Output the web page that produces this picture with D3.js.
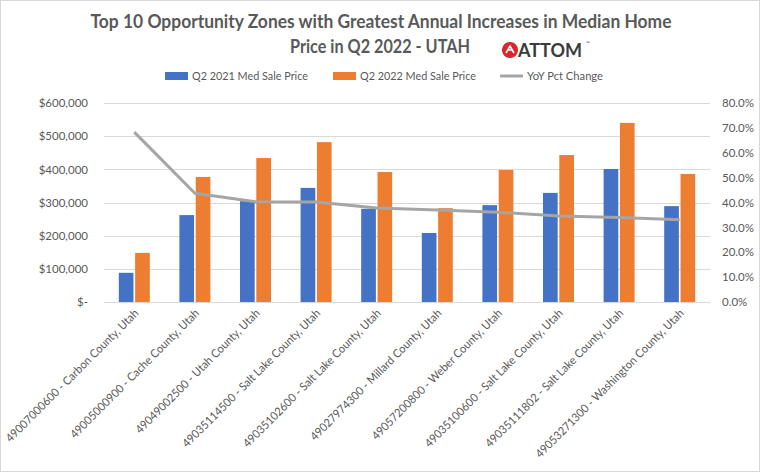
<!DOCTYPE html>
<html><head><meta charset="utf-8">
<script src="https://cdn.jsdelivr.net/npm/d3@7"></script>
<style>
html,body{margin:0;padding:0;background:#fff;}
svg{display:block;font-family:Lato,"Open Sans",sans-serif;}
</style></head>
<body>
<svg id="chart" width="760" height="472"></svg>
<script>
const categories = [
  "49007000600 - Carbon County, Utah",
  "49005000900 - Cache County, Utah",
  "49049002500 - Utah County, Utah",
  "49035114500 - Salt Lake County, Utah",
  "49035102600 - Salt Lake County, Utah",
  "49027974300 - Millard County, Utah",
  "49057200800 - Weber County, Utah",
  "49035100600 - Salt Lake County, Utah",
  "49035111802 - Salt Lake County, Utah",
  "49053271300 - Washington County, Utah"
];
const seriesNames = ["Q2 2021 Med Sale Price", "Q2 2022 Med Sale Price", "YoY Pct Change"];
const price2021 = [88000, 262000, 304000, 344000, 281000, 208000, 292000, 329000, 401000, 289000];
const price2022 = [148000, 377000, 434000, 482000, 392000, 283000, 398000, 443000, 540000, 386000];
const yoyPct = [0.683, 0.437, 0.403, 0.402, 0.378, 0.370, 0.361, 0.346, 0.340, 0.331];
const leftTicks = [0, 100000, 200000, 300000, 400000, 500000, 600000];
const rightTicks = [0, 0.1, 0.2, 0.3, 0.4, 0.5, 0.6, 0.7, 0.8];

const colors = {b:"#4472c4", o:"#ed7d31", g:"#a5a5a5", text:"#595959", grid:"#d9d9d9"};
const FONT = "Lato,'Open Sans',sans-serif";
const svg = d3.select("#chart");

// border
svg.append("rect").attr("x",0.5).attr("y",0.5).attr("width",759).attr("height",471)
  .attr("fill","#fff").attr("stroke","#d9d9d9");

const L = 104, R = 710, T = 103, B = 302;
const x0 = d3.scaleBand().domain(categories).range([L, R]).padding(0);
const bw = x0.bandwidth();
const x1 = d3.scaleBand().domain([0,1]).range([bw/2 - 15.5, bw/2 + 15.5]).paddingInner(0.1).paddingOuter(0);
const yL = d3.scaleLinear().domain([0, 600000]).range([B, T]);
const yR = d3.scaleLinear().domain([0, 0.8]).range([B, T]);

// gridlines
svg.append("g").selectAll("line").data(leftTicks).join("line")
  .attr("x1", L).attr("x2", R)
  .attr("y1", d => Math.round(yL(d)) + 0.5).attr("y2", d => Math.round(yL(d)) + 0.5)
  .attr("stroke", colors.grid).attr("stroke-width", 1);

// left axis
const fmtL = d => d === 0 ? "$-" : "$" + d3.format(",")(d);
const gl = svg.append("g").attr("transform", `translate(${L - 16},0)`)
  .call(d3.axisLeft(yL).tickValues(leftTicks).tickFormat(fmtL).tickSize(0).tickPadding(0));
gl.select(".domain").remove();
gl.selectAll("text").attr("fill", colors.text).style("font-size","11.5px").style("font-family",FONT);

// right axis
const gr = svg.append("g").attr("transform", `translate(${R + 12},0)`)
  .call(d3.axisRight(yR).tickValues(rightTicks).tickFormat(d3.format(".1%")).tickSize(0).tickPadding(0));
gr.select(".domain").remove();
gr.selectAll("text").attr("fill", colors.text).style("font-size","11.5px").style("font-family",FONT);

// bars
const bars = svg.append("g");
[price2021, price2022].forEach((arr, si) => {
  bars.append("g").selectAll("rect").data(arr).join("rect")
    .attr("x", (d,i) => x0(categories[i]) + x1(si))
    .attr("width", x1.bandwidth())
    .attr("y", d => yL(d))
    .attr("height", d => B - yL(d))
    .attr("fill", si === 0 ? colors.b : colors.o);
});

// line
const line = d3.line().x((d,i) => x0(categories[i]) + bw/2).y(d => yR(d));
svg.append("path").datum(yoyPct).attr("d", line)
  .attr("fill","none").attr("stroke", colors.g).attr("stroke-width", 3).attr("stroke-linejoin","round");

// x axis labels
const gx = svg.append("g").attr("transform", `translate(0,${B})`)
  .call(d3.axisBottom(x0).tickSize(0).tickPadding(0));
gx.select(".domain").remove();
const xt = gx.selectAll("text")
  .attr("fill", colors.text)
  .style("font-size","11.5px").style("font-family",FONT)
  .attr("text-anchor","end")
  .attr("dy", null).attr("y", 0)
  .attr("transform","translate(5,12) rotate(-45)");
const firstLen = xt.node().getComputedTextLength();
const k = 182 / firstLen;
xt.each(function(){ const w = this.getComputedTextLength(); d3.select(this).attr("textLength", w * k).attr("lengthAdjust","spacingAndGlyphs"); });

// title
const title = svg.append("g").attr("fill","#595959").style("font-weight","bold").style("font-size","18.5px")
  .style("font-family",FONT).attr("text-anchor","middle");
title.append("text").attr("x", 381).attr("y", 28)
  .attr("textLength", 581).attr("lengthAdjust","spacingAndGlyphs")
  .text("Top 10 Opportunity Zones with Greatest Annual Increases in Median Home");
title.append("text").attr("x", 380).attr("y", 53)
  .attr("textLength", 180).attr("lengthAdjust","spacingAndGlyphs")
  .text("Price in Q2 2022 - UTAH");

// ATTOM logo
const logo = svg.append("g").attr("transform","translate(502,41)");
logo.append("path")
  .attr("d","M8 0 A8 8 0 1 1 7.99 0 Z")
  .attr("transform","translate(0,1)")
  .attr("fill","#d9262c");
logo.append("path").attr("d","M4 12 L8 5 L12 12 M6 9 L10 9").attr("stroke","#fff").attr("stroke-width",1.6).attr("fill","none");
logo.append("text").attr("x", 16).attr("y", 16).attr("fill","#3b3b3b")
  .style("font-weight","bold").style("font-size","19px").style("font-family",FONT)
  .attr("textLength", 64).attr("lengthAdjust","spacingAndGlyphs").text("ATTOM");
logo.append("text").attr("x", 84).attr("y", 4).attr("fill","#3b3b3b").style("font-size","5px").text("™");

// legend
const leg = svg.append("g").style("font-size","11.5px").style("font-family",FONT);
const legX = [165, 333, 500];
const legW = [116, 116, 76];
seriesNames.forEach((n, i) => {
  const g = leg.append("g").attr("transform", `translate(${legX[i]},76)`);
  if (i < 2) g.append("rect").attr("x",0).attr("y",-4).attr("width",23).attr("height",8).attr("fill", i === 0 ? colors.b : colors.o);
  else g.append("line").attr("x1",0).attr("x2",23).attr("y1",0).attr("y2",0).attr("stroke",colors.g).attr("stroke-width",3);
  g.append("text").attr("x",27).attr("y",4).attr("fill",colors.text)
    .attr("textLength", legW[i]).attr("lengthAdjust","spacingAndGlyphs").text(n);
});
</script>
</body></html>
